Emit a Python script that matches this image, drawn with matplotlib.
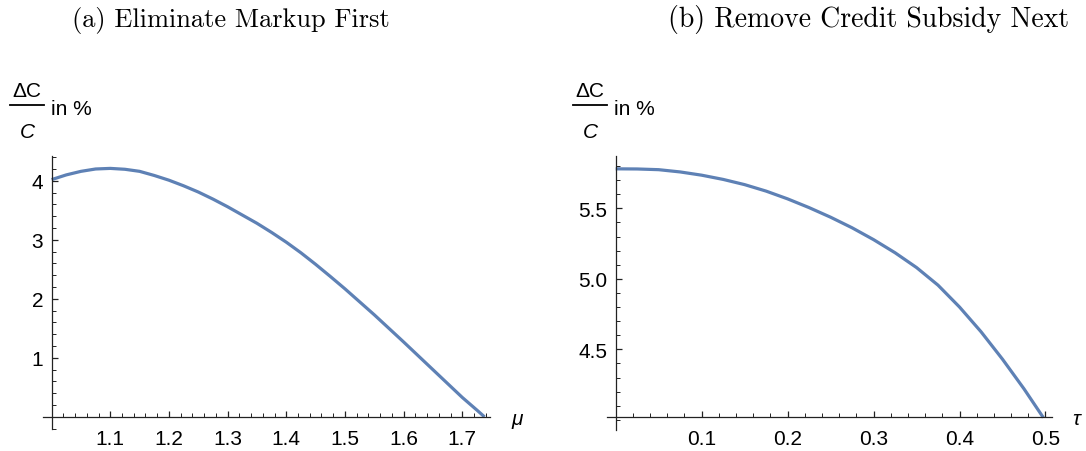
import numpy as np
import matplotlib
matplotlib.use("Agg")
import matplotlib.pyplot as plt
from matplotlib.lines import Line2D
from matplotlib.ticker import FixedLocator, MultipleLocator

plt.rcParams["font.family"] = ["Liberation Sans", "DejaVu Sans"]

# (a) consumption gain vs markup mu
mu = [1.0, 1.025, 1.05, 1.075, 1.1, 1.125, 1.15, 1.175, 1.2, 1.225, 1.25, 1.275,
      1.3, 1.325, 1.35, 1.375, 1.4, 1.425, 1.45, 1.475, 1.5, 1.525, 1.55, 1.575,
      1.6, 1.625, 1.65, 1.675, 1.7, 1.725, 1.738]
gain_mu = [4.02, 4.10, 4.16, 4.20, 4.21, 4.195, 4.16, 4.09, 4.01, 3.915, 3.81, 3.69,
           3.56, 3.42, 3.28, 3.125, 2.96, 2.78, 2.585, 2.38, 2.17, 1.95, 1.73, 1.50,
           1.27, 1.035, 0.80, 0.565, 0.33, 0.115, 0.0]

# (b) consumption gain vs credit subsidy tau
tau = [0.0, 0.025, 0.05, 0.075, 0.1, 0.125, 0.15, 0.175, 0.2, 0.225, 0.25, 0.275,
       0.3, 0.325, 0.35, 0.375, 0.4, 0.425, 0.45, 0.475, 0.4975]
gain_tau = [5.78, 5.779, 5.774, 5.758, 5.735, 5.705, 5.668, 5.622, 5.567, 5.505, 5.437, 5.362,
            5.278, 5.185, 5.08, 4.955, 4.80, 4.625, 4.43, 4.22, 4.016]

xticks_a = [1.1, 1.2, 1.3, 1.4, 1.5, 1.6, 1.7]
yticks_a = [1, 2, 3, 4]
xticks_b = [0.1, 0.2, 0.3, 0.4, 0.5]
yticks_b = [4.5, 5.0, 5.5]

line_color = "#5E81B5"
axis_color = "#222222"
W, H = 1086, 452

fig = plt.figure(figsize=(W / 100, H / 100), dpi=100)


def fx(px):
    return px / W


def fy(py):
    return 1 - py / H


def make_axes(box, xlim, ylim, x0, y0):
    l, t, r, b = box
    ax = fig.add_axes([fx(l), fy(b), (r - l) / W, (b - t) / H])
    ax.set_xlim(*xlim)
    ax.set_ylim(*ylim)
    for s in ["top", "right"]:
        ax.spines[s].set_visible(False)
    ax.spines["left"].set_position(("data", x0))
    ax.spines["bottom"].set_position(("data", y0))
    for s in ["left", "bottom"]:
        ax.spines[s].set_linewidth(0.9)
        ax.spines[s].set_color(axis_color)
    ax.tick_params(which="major", direction="in", length=4.5, width=0.9,
                   labelsize=15, color=axis_color)
    ax.tick_params(which="minor", direction="in", length=2.6, width=0.7,
                   color=axis_color)
    ax.tick_params(axis="x", pad=8.5)
    ax.tick_params(axis="y", pad=6)
    ax.patch.set_alpha(0)
    return ax


def frac_label(left):
    # Delta C / C in %, laid out like the stacked fraction of the original
    fs = 15
    fig.text(fx(left + 17), fy(97), "ΔC", fontsize=fs, ha="center", va="baseline")
    fig.add_artist(Line2D([fx(left), fx(left + 34)], [fy(106), fy(106)],
                          color="black", lw=1.3))
    fig.text(fx(left + 17), fy(138), "C", fontsize=fs, style="italic",
             ha="center", va="baseline")
    fig.text(fx(left + 41), fy(115), "in %", fontsize=fs, ha="left", va="baseline")


# panel (a)
ax1 = make_axes((43, 157, 490, 430), (0.9853, 1.7473), (-0.205, 4.42), 1.0, 0.0)
ax1.plot(mu, gain_mu, color=line_color, lw=2.3, solid_capstyle="butt", clip_on=False)
ax1.xaxis.set_major_locator(FixedLocator(xticks_a))
ax1.yaxis.set_major_locator(FixedLocator(yticks_a))
ax1.set_xticklabels([f"{v:.1f}" for v in xticks_a])
ax1.set_yticklabels([str(v) for v in yticks_a])
ax1.xaxis.set_minor_locator(MultipleLocator(0.02))
ax1.yaxis.set_minor_locator(MultipleLocator(0.2))

# panel (b)
ax2 = make_axes((607, 157, 1052, 431), (-0.0101, 0.5076), (3.928, 5.871), 0.0, 4.02)
ax2.plot(tau, gain_tau, color=line_color, lw=2.3, solid_capstyle="butt", clip_on=False)
ax2.xaxis.set_major_locator(FixedLocator(xticks_b))
ax2.yaxis.set_major_locator(FixedLocator(yticks_b))
ax2.set_xticklabels([f"{v:.1f}" for v in xticks_b])
ax2.set_yticklabels([f"{v:.1f}" for v in yticks_b])
ax2.xaxis.set_minor_locator(MultipleLocator(0.02))
ax2.yaxis.set_minor_locator(MultipleLocator(0.1))

# axis labels
frac_label(10)
frac_label(573)
fig.text(fx(511), fy(420), "μ", fontsize=15, style="italic", ha="left", va="center")
fig.text(fx(1072), fy(420), "τ", fontsize=15, style="italic", ha="left", va="center")

# panel titles
fig.text(fx(231), fy(27), "(a) Eliminate Markup First", family="cmr10",
         fontsize=19, ha="center", va="baseline")
fig.text(fx(868), fy(27), "(b) Remove Credit Subsidy Next", family="cmr10",
         fontsize=20, ha="center", va="baseline")

fig.savefig("out.png", dpi=100)
